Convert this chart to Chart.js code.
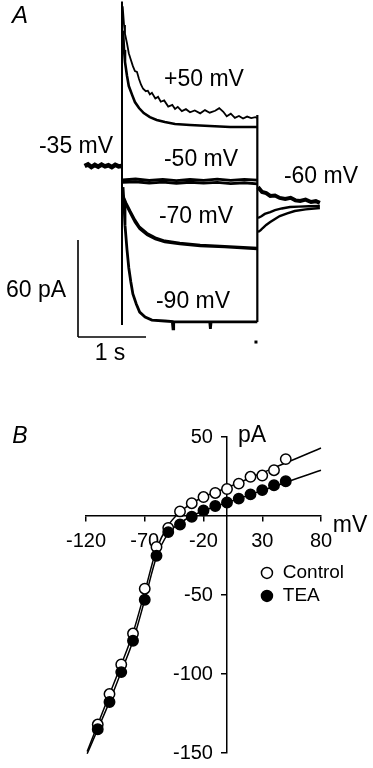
<!DOCTYPE html>
<html>
<head>
<meta charset="utf-8">
<script src="https://cdn.jsdelivr.net/npm/chart.js@4"></script>
<style>
	html, body { margin: 0; padding: 0; background: #fff; }
	#wrap { position: relative; width: 373px; height: 768px; }
	#chartA { position: absolute; left: 0; top: 0; }
	#chartB { position: absolute; left: 0; top: 380px; }
</style>
</head>
<body>
<div id="wrap">
	<canvas id="chartA" width="373" height="370"></canvas>
	<canvas id="chartB" width="373" height="388"></canvas>
</div>
<script>
// ---- Panel A: current traces (time in s from step onset, current in pA re. holding) ----
const holdT = [-0.55, -0.5, -0.45, -0.4, -0.35, -0.3, -0.25, -0.2, -0.15, -0.1, -0.05, -0.01];
const holdI = [1.2, 2.2, 0.6, 1.9, 0.8, 2.1, 1, 1.7, 0.6, 2, 1, 1.2];

const p50aT = [0.01, 0.03, 0.044, 0.074, 0.10, 0.13, 0.16, 0.19, 0.22, 0.25, 0.28, 0.31, 0.35, 0.38, 0.41, 0.44, 0.49, 0.53, 0.57, 0.62, 0.68, 0.74, 0.78, 0.82, 0.88, 0.94, 1.0, 1.07, 1.15, 1.22, 1.29, 1.37, 1.43, 1.49, 1.54, 1.60, 1.66, 1.72, 1.78, 1.84, 1.90, 1.96, 1.99];
const p50aI = [100, 88.4, 83, 77, 71, 67, 63, 60, 59.5, 55, 51.5, 49, 47.5, 47.8, 45.5, 46.5, 43, 44, 41, 41.8, 38, 39, 36.5, 37.8, 35.2, 36.4, 34.5, 35.6, 33.8, 35.8, 34.2, 35.4, 37, 34.8, 32, 33.6, 31, 32.2, 30.6, 31.8, 30.9, 31.5, 30.9];

const p50bT = [0.015, 0.03, 0.044, 0.074, 0.10, 0.15, 0.19, 0.25, 0.32, 0.41, 0.51, 0.63, 0.78, 1.0, 1.29, 1.59, 1.99];
const p50bI = [85, 73, 65.6, 56.9, 50.7, 45.1, 40.8, 37.1, 34, 31.5, 29.7, 28.4, 27.2, 26.6, 26, 25.4, 25.4];

const m50T = [0.01, 0.2, 0.4, 0.6, 0.8, 1.0, 1.2, 1.4, 1.6, 1.8, 1.99];
const m50aI = [-7.4, -6.8, -7.7, -7, -7.8, -7.1, -7.6, -6.9, -7.6, -7, -7.5];
const m50bI = [-8.8, -8.5, -9.3, -8.7, -9.4, -8.8, -9.4, -8.9, -9.6, -9.1, -9.8];

const m70T = [0.015, 0.06, 0.12, 0.19, 0.26, 0.37, 0.49, 0.63, 0.85, 1.15, 1.51, 1.99];
const m70aI = [-17.9, -22.9, -27.8, -33.4, -37.7, -41.4, -43.9, -45.8, -47, -48.2, -48.9, -50.1];
const m70bI = [-17, -21.5, -26.5, -32, -36.5, -40.3, -43, -45, -46.4, -47.6, -48.4, -49.4];

const m90T = [0.015, 0.03, 0.044, 0.074, 0.10, 0.13, 0.16, 0.21, 0.26, 0.34, 0.44, 0.63, 0.74, 0.75, 0.76, 1.29, 1.30, 1.31, 1.99];
const m90I = [-11.8, -22.9, -35.3, -50.7, -61.8, -70.5, -77.9, -84.1, -89.1, -92.1, -94, -94.6, -95, -99.5, -95, -95.2, -99.5, -95.2, -95.2];

const tailAT = [2.0, 2.06, 2.12, 2.18, 2.25, 2.32, 2.40, 2.48, 2.55, 2.62, 2.70, 2.78, 2.85, 2.91];
const tailAI = [-11.8, -14.8, -15.5, -17.3, -17.0, -18.5, -19.2, -18.4, -20, -20.4, -19.5, -21, -20.5, -21.6];
const tailBT = [2.0, 2.05, 2.10, 2.18, 2.25, 2.35, 2.47, 2.6, 2.75, 2.91];
const tailBI = [-30.9, -29.8, -28.4, -27.2, -26, -25, -24.1, -23.9, -23.6, -23.5];
const tailCT = [2.0, 2.04, 2.07, 2.12, 2.18, 2.25, 2.32, 2.43, 2.54, 2.7, 2.91];
const tailCI = [-39.6, -38.4, -37.1, -35.2, -33.4, -31.5, -29.7, -28, -26.6, -25.6, -24.7];

// voltage step on / off edges
const stepOnT = [0, 0];
const stepOnI = [103, -97];
const stepOffT = [1.99, 1.99];
const stepOffI = [32.8, -95.2];

// scale bars: 60 pA, 1 s
const barVT = [-0.647, -0.647];
const barVI = [-44.5, -104.5];
const barHT = [-0.647, 0.353];
const barHI = [-104.5, -104.5];

// ---- Panel B: I-V relation ----
const voltages = [-110, -100, -90, -80, -70, -60, -50, -40, -30, -20, -10, 0, 10, 20, 30, 40, 50];
const controlI = [-132, -112.7, -94, -74.4, -46, -19.6, -7.5, 2.9, 8.1, 12, 14.6, 17.1, 20.5, 24.8, 25.6, 29, 36];
const teaI = [-135, -117.7, -98.8, -79, -53, -25.2, -10.2, -5.4, -0.5, 3.5, 6.3, 8.5, 11, 13.7, 16.4, 19.5, 22];

const fitV = [-119, -110, -100, -90, -80, -70, -60, -50, -40, -30, -20, -10, 0, 10, 20, 30, 40, 50, 60, 70, 80];
const fitControl = [-149, -132, -113, -94, -74, -48, -21, -6, 2.5, 8, 12, 15, 18, 21, 24.2, 27.3, 30.5, 33.6, 36.7, 39.9, 43];
const fitTea = [-150.5, -135, -117.5, -98.5, -79, -53, -26, -11, -4.5, 0, 3.2, 6, 8.5, 11, 13.6, 16.2, 18.7, 21.3, 23.9, 26.4, 29];

const xTicksB = [-120, -70, -20, 30, 80];
const yTicksB = [50, -50, -100, -150];

const FONT = "'Liberation Sans', Arial, sans-serif";

function pts(xs, ys) {
	return xs.map((x, k) => ({ x: x, y: ys[k] }));
}

function trace(xs, ys, width) {
	return {
		data: pts(xs, ys),
		showLine: true,
		borderColor: "#000",
		borderWidth: width,
		pointRadius: 0,
		tension: 0,
		clip: false,
	};
}

// draws free text (and legend markers) at data or pixel positions
const textPlugin = {
	id: "texts",
	afterDraw(chart, args, opts) {
		const ctx = chart.ctx;
		const sx = chart.scales.x, sy = chart.scales.y;
		ctx.save();
		(opts.items || []).forEach((it) => {
			const px = it.px != null ? it.px : sx.getPixelForValue(it.x);
			const py = it.py != null ? it.py : sy.getPixelForValue(it.y);
			if (it.marker) {
				ctx.beginPath();
				ctx.arc(px, py, 5.5, 0, Math.PI * 2);
				ctx.lineWidth = 1.5;
				ctx.strokeStyle = "#000";
				ctx.fillStyle = it.marker === "filled" ? "#000" : "#fff";
				ctx.fill();
				ctx.stroke();
				return;
			}
			if (it.dot) {
				ctx.fillStyle = "#000";
				ctx.fillRect(px - 1.5, py - 1.5, 3, 3);
				return;
			}
			ctx.fillStyle = "#000";
			ctx.font = it.font;
			ctx.textAlign = it.align || "center";
			ctx.textBaseline = "middle";
			ctx.fillText(it.text, px, py);
		});
		ctx.restore();
	},
};

new Chart(document.getElementById("chartA"), {
	type: "scatter",
	data: {
		datasets: [
			trace(holdT, holdI, 4.5),
			trace(stepOnT, stepOnI, 2),
			trace(p50aT, p50aI, 1.8),
			trace(p50bT, p50bI, 2.6),
			trace(m50T, m50aI, 2.8),
			trace(m50T, m50bI, 2.8),
			trace(m70T, m70aI, 2.4),
			trace(m70T, m70bI, 2.4),
			trace(m90T, m90I, 2.8),
			trace(stepOffT, stepOffI, 2.2),
			trace(tailAT, tailAI, 4),
			trace(tailBT, tailBI, 2.4),
			trace(tailCT, tailCI, 2.4),
			trace(barVT, barVI, 1.6),
			trace(barHT, barHI, 1.6),
		],
	},
	options: {
		responsive: false,
		animation: false,
		layout: { padding: 0 },
		scales: {
			x: { type: "linear", min: -1.794, max: 3.691, display: false },
			y: { type: "linear", min: -124.9, max: 103.9, display: false },
		},
		plugins: {
			legend: { display: false },
			tooltip: { enabled: false },
			texts: {
				items: [
					{ text: "A", px: 20, py: 16, font: "italic 24px " + FONT },
					{ text: "+50 mV", x: 1.206, y: 54.4, font: "23px " + FONT },
					{ text: "-35 mV", x: -0.676, y: 13, font: "23px " + FONT },
					{ text: "-50 mV", x: 1.162, y: 4.9, font: "23px " + FONT },
					{ text: "-60 mV", x: 2.926, y: -5.6, font: "23px " + FONT },
					{ text: "-70 mV", x: 1.088, y: -30.3, font: "23px " + FONT },
					{ text: "-90 mV", x: 1.044, y: -82.9, font: "23px " + FONT },
					{ text: "60 pA", x: -1.265, y: -76.1, font: "23px " + FONT },
					{ text: "1 s", x: -0.176, y: -115, font: "23px " + FONT },
					{ dot: true, x: 1.97, y: -107.6 },
				],
			},
		},
	},
	plugins: [textPlugin],
});

new Chart(document.getElementById("chartB"), {
	type: "scatter",
	data: {
		datasets: [
			{
				label: "TEA",
				data: pts(voltages, teaI),
				pointRadius: 5.2,
				pointBorderWidth: 1.5,
				pointBackgroundColor: "#000",
				pointBorderColor: "#000",
			},
			{
				label: "Control",
				data: pts(voltages, controlI),
				pointRadius: 5.2,
				pointBorderWidth: 1.5,
				pointBackgroundColor: "#fff",
				pointBorderColor: "#000",
			},
			trace(fitV, fitControl, 1.5),
			trace(fitV, fitTea, 1.5),
		].map((d) => Object.assign(d, d.showLine ? { cubicInterpolationMode: "monotone", clip: 2 } : {})),
	},
	options: {
		responsive: false,
		animation: false,
		layout: { padding: { left: 86, right: 52, top: 57, bottom: 11 } },
		scales: {
			x: {
				type: "linear",
				min: -120,
				max: 80,
				position: { y: 0 },
				afterFit: (s) => { s.height = 0; },
				afterBuildTicks: (s) => { s.ticks = xTicksB.map((v) => ({ value: v })); },
				ticks: { color: "#000", font: { family: FONT, size: 20 }, padding: 8, autoSkip: false, maxRotation: 0 },
				grid: { display: true, drawOnChartArea: false, drawTicks: true, tickLength: 5, color: "#000", lineWidth: 1.5 },
				border: { display: true, color: "#000", width: 1.5 },
			},
			y: {
				type: "linear",
				min: -150,
				max: 50,
				position: { x: 0 },
				afterFit: (s) => { s.width = 0; },
				afterBuildTicks: (s) => { s.ticks = yTicksB.map((v) => ({ value: v })); },
				ticks: {
					color: "#000",
					font: { family: FONT, size: 20 },
					autoSkip: false,
					// keep a gap between the label and the axis line
					callback: (v) => v + "\u2002\u2009",
				},
				grid: { display: true, drawOnChartArea: false, drawTicks: true, tickLength: 5, color: "#000", lineWidth: 1.5 },
				border: { display: true, color: "#000", width: 1.5 },
			},
		},
		plugins: {
			legend: { display: false },
			tooltip: { enabled: false },
			texts: {
				items: [
					{ text: "B", px: 20, py: 57, font: "italic 23px " + FONT },
					{ text: "pA", x: 9.4, y: 50.6, align: "left", font: "23px " + FONT },
					{ text: "mV", x: 104.7, y: -6.3, font: "23px " + FONT },
					{ marker: "open", x: 34, y: -36 },
					{ text: "Control", x: 47.5, y: -36, align: "left", font: "19px " + FONT },
					{ marker: "filled", x: 34, y: -50.6 },
					{ text: "TEA", x: 47.5, y: -50.6, align: "left", font: "19px " + FONT },
				],
			},
		},
	},
	plugins: [textPlugin],
});
</script>
</body>
</html>
